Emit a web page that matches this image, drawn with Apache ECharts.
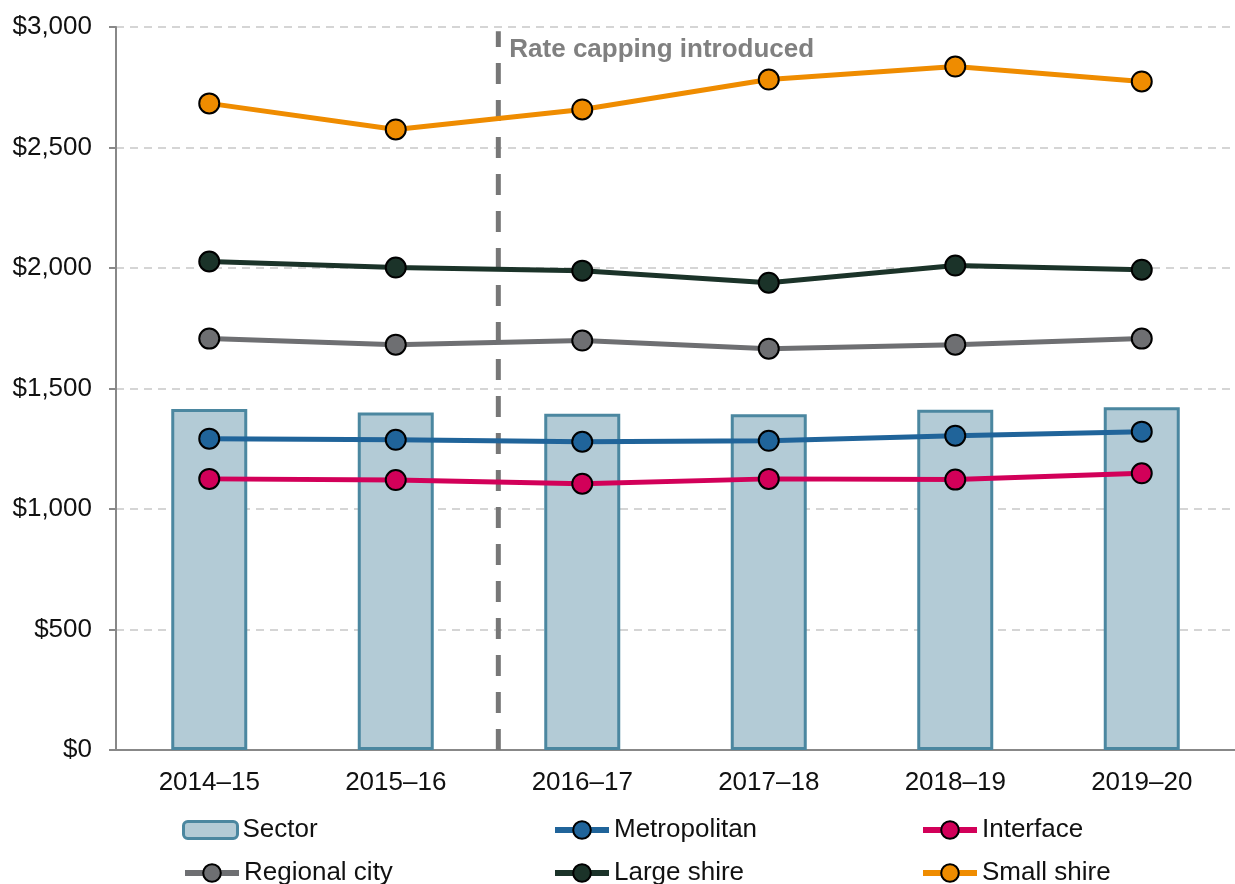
<!DOCTYPE html>
<html>
<head>
<meta charset="utf-8">
<script src="https://cdn.jsdelivr.net/npm/echarts@6/dist/echarts.min.js"></script>
<style>
  html, body { margin: 0; padding: 0; background: #fff; }
  #chart { width: 1235px; height: 884px; }
</style>
</head>
<body>
<div id="chart"></div>
<script>
(function(){

  // data
  const years = ['2014–15', '2015–16', '2016–17', '2017–18', '2018–19', '2019–20']
  const sector = [1415, 1400, 1395, 1393, 1412, 1422]
  const metropolitan = [1292, 1287, 1279, 1283, 1304, 1321]
  const interfaceCouncils = [1125, 1120, 1105, 1125, 1122, 1148]
  const regionalCity = [1707, 1682, 1699, 1665, 1682, 1707]
  const largeShire = [2027, 2002, 1989, 1939, 2010, 1993]
  const smallShire = [2683, 2575, 2658, 2782, 2836, 2774]
  const yTicks = [0, 500, 1000, 1500, 2000, 2500, 3000]
  // rate capping marker sits just past the boundary between 2015–16 and 2016–17
  const rateCapPos = 2.05
  const rateCapLabel = 'Rate capping introduced'

  const font = 'Liberation Sans, Arial, sans-serif'

  const lineSeries = (name, data, color) => ({
    name: name,
    type: 'line',
    data: data,
    symbol: 'circle',
    symbolSize: 20,
    z: 5,
    lineStyle: { color: color, width: 5 },
    itemStyle: { color: color, borderColor: '#000', borderWidth: 2 }
  })

  // one legend per item so the three columns line up like the original
  const legendItem = (name, left, top, isBar) => ({
    data: [name],
    left: left,
    top: top,
    itemWidth: 54,
    itemHeight: isBar ? 17 : 22,
    lineStyle: { width: 6 },
    itemStyle: isBar ? { borderWidth: 3 } : { borderWidth: 2 },
    textStyle: { fontFamily: font, fontSize: 26, color: '#111' }
  })

  const chart = echarts.init(document.getElementById('chart'))
  const option = {
    animation: false,
    grid: { left: 116, right: -11, top: 27, bottom: 134 },
    legend: [
      legendItem('Sector', 177, 812, true),
      legendItem('Regional city', 177, 855, false),
      legendItem('Metropolitan', 547, 812, false),
      legendItem('Large shire', 547, 855, false),
      legendItem('Interface', 915, 812, false),
      legendItem('Small shire', 915, 855, false)
    ],
    xAxis: [
      {
        type: 'category',
        data: years,
        axisLine: { lineStyle: { color: '#888', width: 2 } },
        axisTick: { alignWithLabel: true, length: 7, lineStyle: { color: '#888', width: 2 } },
        axisLabel: { fontFamily: font, fontSize: 26, color: '#111', margin: 20 }
      },
      { type: 'value', min: 0, max: 6, show: false }
    ],
    yAxis: {
      type: 'value',
      min: yTicks[0],
      max: yTicks[yTicks.length - 1],
      interval: 500,
      axisLine: { show: true, lineStyle: { color: '#888', width: 2 } },
      axisTick: { show: true, length: 7, lineStyle: { color: '#888', width: 2 } },
      axisLabel: {
        fontFamily: font, fontSize: 26, color: '#111', margin: 24,
        formatter: v => '$' + v.toLocaleString('en-US')
      },
      splitLine: { lineStyle: { color: '#c8c8c8', width: 1.5, type: [8, 6] } }
    },
    series: [
      {
        name: 'Sector',
        type: 'bar',
        data: sector,
        barWidth: 76,
        itemStyle: { color: '#b3cbd6', borderColor: '#4b87a0', borderWidth: 3 }
      },
      lineSeries('Metropolitan', metropolitan, '#20649a'),
      lineSeries('Interface', interfaceCouncils, '#d20059'),
      lineSeries('Regional city', regionalCity, '#6e6f72'),
      lineSeries('Large shire', largeShire, '#1b3329'),
      lineSeries('Small shire', smallShire, '#ef8c00'),
      {
        name: 'rate-cap',
        type: 'line',
        xAxisIndex: 1,
        data: [[rateCapPos, 0], [rateCapPos, 2982]],
        symbol: 'none',
        z: 3,
        lineStyle: { color: '#777', width: 5, type: [21, 16] },
        markPoint: {
          symbol: 'circle',
          symbolSize: 0,
          data: [{ coord: [rateCapPos, 2905] }],
          label: {
            show: true,
            position: 'right',
            distance: 11,
            formatter: rateCapLabel,
            fontFamily: font, fontSize: 26, fontWeight: 'bold', color: '#808080'
          }
        }
      }
    ]
  }
  chart.setOption(option)

})()
</script>
</body>
</html>
